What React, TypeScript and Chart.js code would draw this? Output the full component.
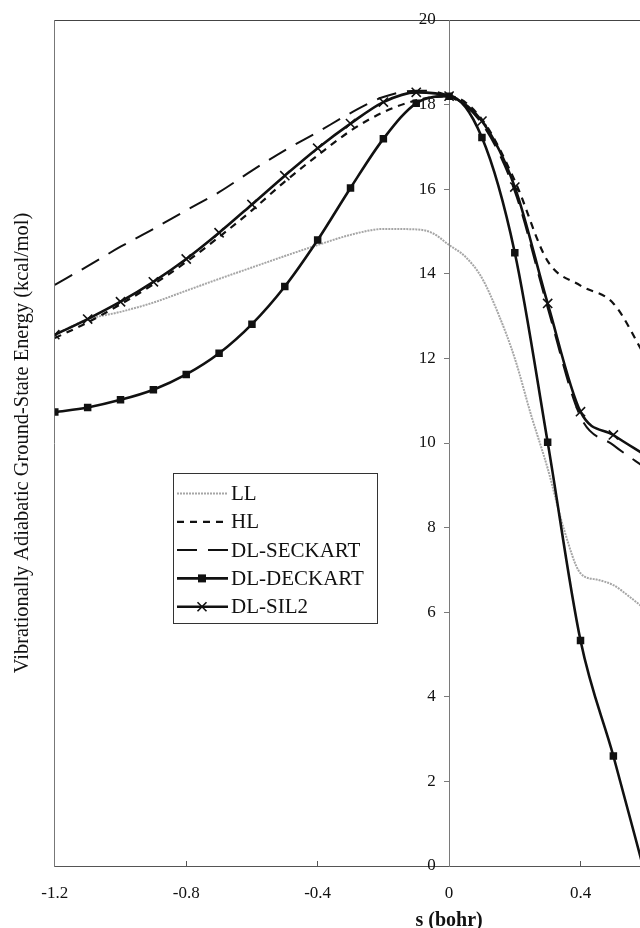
import React, { useEffect, useRef } from "react";
import { Chart, registerables } from "chart.js";

Chart.register(...registerables);

// ---- data ----
const sValues = [-1.2, -1.1, -1.0, -0.9, -0.8, -0.7, -0.6, -0.5, -0.4, -0.3, -0.2, -0.1, 0, 0.1, 0.2, 0.3, 0.4, 0.5, 0.6];
const hlValues = [12.48, 12.85, 13.28, 13.75, 14.28, 14.87, 15.5, 16.18, 16.8, 17.38, 17.82, 18.1, 18.2, 17.65, 16.2, 14.3, 13.72, 13.3, 12.0];
const seckartValues = [13.74, 14.18, 14.64, 15.06, 15.5, 15.93, 16.44, 16.92, 17.35, 17.8, 18.18, 18.33, 18.2, 17.55, 15.95, 13.2, 10.62, 9.95, 9.4];
const deckartValues = [10.73, 10.84, 11.02, 11.26, 11.62, 12.12, 12.81, 13.7, 14.8, 16.03, 17.19, 18.03, 18.2, 17.22, 14.5, 10.02, 5.33, 2.6, -0.3];
const sil2Values = [12.56, 12.93, 13.34, 13.81, 14.35, 14.97, 15.64, 16.32, 16.97, 17.55, 18.06, 18.29, 18.2, 17.61, 16.05, 13.3, 10.74, 10.19, 9.7];
const sLL = [-1.2, -1.1, -1.0, -0.9, -0.8, -0.7, -0.6, -0.5, -0.4, -0.3, -0.2, -0.1, -0.05, 0, 0.05, 0.1, 0.15, 0.2, 0.25, 0.3, 0.35, 0.4, 0.45, 0.5, 0.55, 0.6];
const llValues = [12.56, 12.92, 13.1, 13.32, 13.6, 13.88, 14.15, 14.42, 14.68, 14.92, 15.06, 15.05, 14.96, 14.68, 14.4, 13.9, 13.05, 12.0, 10.65, 9.4, 7.95, 6.92, 6.77, 6.64, 6.36, 6.05];

const seriesLabels = ["LL", "HL", "DL-SECKART", "DL-DECKART", "DL-SIL2"];
const xTickValues = [-1.2, -0.8, -0.4, 0, 0.4, 0.8, 1.2];
const yMin = 0;
const yMax = 20;
const yStep = 2;
const xMin = -1.2;
const xMax = 1.2;
const yAxisCross = 0; // the value axis crosses the category axis at s = 0
const xTitle = "s (bohr)";
const yTitle = "Vibrationally Adiabatic Ground-State Energy (kcal/mol)";

const SERIF = "'Liberation Serif', 'Times New Roman', Times, serif";
const INK = "#111111";
const LABEL_GAP_PX = 13.3;
const CANVAS_W = 876;
const CANVAS_H = 934;
const PLOT_LEFT = 54.8;
const RIGHT_PAD = 23.2;
const RIGHT_EXTRA = 10; // space Chart.js keeps for the last x label

const toPoints = (xs: number[], ys: number[]) => xs.map((x, i) => ({ x, y: ys[i] }));

const legendPlugin = {
  id: "boxLegend",
  afterDatasetsDraw(chart: any) {
    const ctx: CanvasRenderingContext2D = chart.ctx;
    const left = 173;
    const top = 473;
    const width = 204;
    const height = 150;
    const rowStart = 493.5;
    const rowStep = 28.3;
    ctx.save();
    ctx.fillStyle = "#ffffff";
    ctx.fillRect(left, top, width, height);
    ctx.strokeStyle = "#333333";
    ctx.lineWidth = 1;
    ctx.setLineDash([]);
    ctx.strokeRect(left + 0.5, top + 0.5, width, height);
    chart.data.datasets.forEach((ds: any, i: number) => {
      const y = rowStart + i * rowStep;
      ctx.strokeStyle = ds.borderColor;
      ctx.lineWidth = ds.borderWidth;
      ctx.setLineDash(ds.borderDash || []);
      ctx.beginPath();
      ctx.moveTo(177, y);
      ctx.lineTo(228, y);
      ctx.stroke();
      ctx.setLineDash([]);
      const cx = 202;
      if (ds.pointStyle === "rect") {
        ctx.fillStyle = INK;
        ctx.fillRect(cx - 4, y - 4, 8, 8);
      } else if (ds.pointStyle === "crossRot") {
        ctx.strokeStyle = INK;
        ctx.lineWidth = 1.6;
        ctx.beginPath();
        ctx.moveTo(cx - 4.5, y - 4.5);
        ctx.lineTo(cx + 4.5, y + 4.5);
        ctx.moveTo(cx + 4.5, y - 4.5);
        ctx.lineTo(cx - 4.5, y + 4.5);
        ctx.stroke();
      }
      ctx.fillStyle = INK;
      ctx.font = `21px ${SERIF}`;
      ctx.textBaseline = "middle";
      ctx.textAlign = "left";
      ctx.fillText(ds.label, 231, y + 1);
    });
    ctx.restore();
  },
};

export default function App() {
  const canvasRef = useRef<HTMLCanvasElement | null>(null);

  useEffect(() => {
    const canvas = canvasRef.current;
    if (!canvas) return;
    const plotRight = CANVAS_W - RIGHT_PAD - RIGHT_EXTRA;
    const pxPerUnit = (plotRight - PLOT_LEFT) / (xMax - xMin);
    const labelAxisAt = yAxisCross - LABEL_GAP_PX / pxPerUnit;

    const chart = new Chart(canvas, {
      type: "line",
      data: {
        datasets: [
          {
            label: seriesLabels[0],
            data: toPoints(sLL, llValues),
            borderColor: "#a6a6a6",
            borderWidth: 2,
            borderDash: [2, 1],
            pointRadius: 0,
            cubicInterpolationMode: "monotone",
            order: 5,
          },
          {
            label: seriesLabels[1],
            data: toPoints(sValues, hlValues),
            borderColor: INK,
            borderWidth: 2.2,
            borderDash: [7, 6],
            pointRadius: 0,
            cubicInterpolationMode: "monotone",
            order: 4,
          },
          {
            label: seriesLabels[2],
            data: toPoints(sValues, seckartValues),
            borderColor: INK,
            borderWidth: 2,
            borderDash: [20, 11],
            pointRadius: 0,
            cubicInterpolationMode: "monotone",
            order: 3,
          },
          {
            label: seriesLabels[3],
            data: toPoints(sValues, deckartValues),
            borderColor: INK,
            borderWidth: 2.6,
            pointStyle: "rect",
            pointRadius: 5.3,
            pointBackgroundColor: INK,
            pointBorderColor: INK,
            pointBorderWidth: 0,
            cubicInterpolationMode: "monotone",
            order: 2,
          },
          {
            label: seriesLabels[4],
            data: toPoints(sValues, sil2Values),
            borderColor: INK,
            borderWidth: 2.6,
            pointStyle: "crossRot",
            pointRadius: 6.5,
            pointBorderColor: INK,
            pointBorderWidth: 1.6,
            cubicInterpolationMode: "monotone",
            order: 1,
          },
        ] as any,
      },
      options: {
        animation: false,
        responsive: false,
        events: [],
        layout: { padding: { left: 0, top: 0, right: RIGHT_PAD, bottom: 0 } },
        plugins: {
          legend: { display: false },
          tooltip: { enabled: false },
        },
        scales: {
          x: {
            type: "linear",
            position: "bottom",
            min: xMin,
            max: xMax,
            afterBuildTicks: (scale: any) => {
              scale.ticks = xTickValues.map((v) => ({ value: v }));
            },
            afterFit: (scale: any) => {
              scale.height = 68;
            },
            grid: { drawOnChartArea: false, drawTicks: true, tickLength: -5, color: "#555555" },
            border: { display: true, color: "#555555", width: 1 },
            ticks: {
              padding: 22,
              autoSkip: false,
              maxRotation: 0,
              color: INK,
              font: { family: SERIF, size: 17 },
              callback: (v: any) => (Number(v) === 0 ? "0" : Number(v).toFixed(1)),
            },
            title: {
              display: true,
              text: xTitle,
              color: INK,
              font: { family: SERIF, size: 20, weight: "bold" },
              padding: { top: 0, bottom: 1 },
            },
          },
          xTop: {
            type: "linear",
            position: "top",
            min: xMin,
            max: xMax,
            ticks: { display: false },
            grid: { display: true, drawOnChartArea: false, drawTicks: false },
            border: { display: true, color: "#444444", width: 1 },
            afterFit: (scale: any) => {
              scale.height = 20;
            },
          },
          yLeft: {
            type: "linear",
            position: "left",
            min: yMin,
            max: yMax,
            ticks: { display: false },
            grid: { display: true, drawOnChartArea: false, drawTicks: false },
            border: { display: true, color: "#777777", width: 1 },
            title: {
              display: true,
              text: yTitle,
              color: INK,
              font: { family: SERIF, size: 20.4 },
              padding: { top: 10, bottom: 0 },
            },
            afterFit: (scale: any) => {
              scale.width = PLOT_LEFT;
            },
          },
          // value axis line with its tick marks, crossing at s = 0
          yLine: {
            type: "linear",
            position: { x: yAxisCross } as any,
            min: yMin,
            max: yMax,
            ticks: { display: false, stepSize: yStep },
            grid: { drawOnChartArea: false, drawTicks: true, tickLength: 5, color: "#7a7a7a" },
            border: { display: true, color: "#7a7a7a", width: 1 },
          },
          // value axis labels, set just left of the axis line
          y: {
            type: "linear",
            position: { x: labelAxisAt } as any,
            min: yMin,
            max: yMax,
            ticks: {
              stepSize: yStep,
              color: INK,
              font: { family: SERIF, size: 17 },
            },
            grid: { display: false, drawOnChartArea: false, drawTicks: false },
            border: { display: false },
          },
        } as any,
      },
      plugins: [legendPlugin],
    });
    return () => {
      chart.destroy();
    };
  }, []);

  return (
    <div
      style={{
        position: "absolute",
        left: 0,
        top: 0,
        width: 640,
        height: 928,
        overflow: "hidden",
        background: "#ffffff",
      }}
    >
      <canvas ref={canvasRef} width={CANVAS_W} height={CANVAS_H} style={{ display: "block" }} />
    </div>
  );
}
